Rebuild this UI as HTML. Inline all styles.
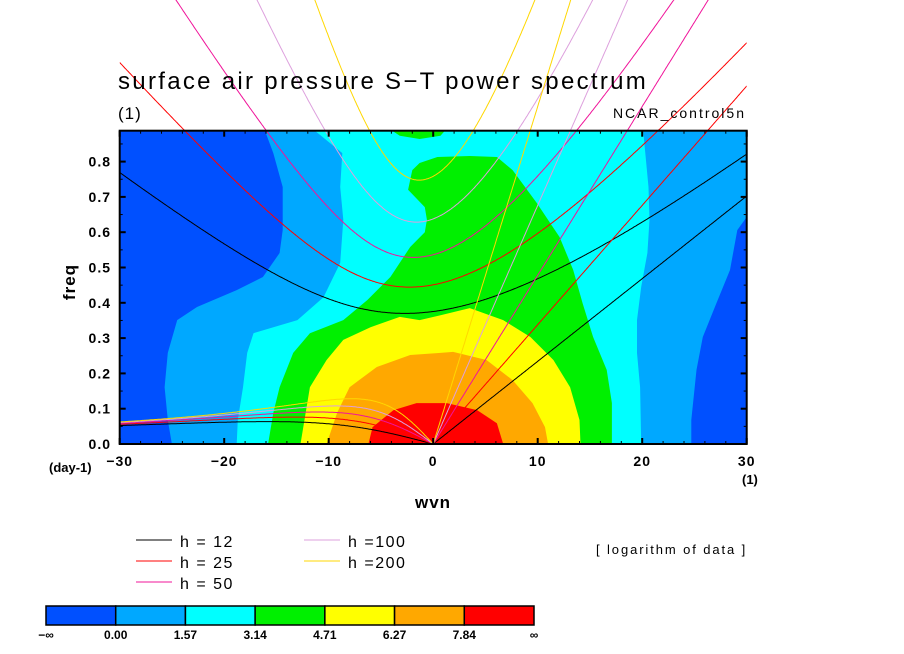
<!DOCTYPE html>
<html><head><meta charset="utf-8"><style>
body{margin:0;background:#fff;}
svg{display:block;font-family:"Liberation Sans",sans-serif;}
</style></head><body>
<svg id="chart" width="904" height="654" viewBox="0 0 904 654">
<defs>
<clipPath id="plotClip"><rect x="119.7" y="130.7" width="627" height="313.3"/></clipPath>
<clipPath id="curveClip"><rect x="119.7" y="0" width="627" height="654"/></clipPath>
</defs>
<g id="fills" clip-path="url(#plotClip)"></g>
<g id="curves" clip-path="url(#curveClip)"></g>
<g id="axes"></g>
<text x="118" y="89" font-size="24" letter-spacing="2.3">surface air pressure S−T power spectrum</text>
<text x="118" y="119" font-size="17" letter-spacing="1">(1)</text>
<text x="746" y="118" font-size="14" letter-spacing="2" text-anchor="end">NCAR_control5n</text>
<text x="75" y="282" font-size="17" font-weight="bold" letter-spacing="1" text-anchor="middle" transform="rotate(-90 75 282)">freq</text>
<text x="433" y="508" font-size="17" font-weight="bold" letter-spacing="1" text-anchor="middle">wvn</text>
<text x="49" y="472" font-size="13" font-weight="bold">(day-1)</text>
<text x="742" y="484" font-size="13" font-weight="bold">(1)</text>
<text x="596" y="554" font-size="13" letter-spacing="1.9">[ logarithm of data ]</text>
<g id="legend"></g>
<g id="colorbar"></g>
</svg>
<script>
const NS="http://www.w3.org/2000/svg";
const depths=[12,25,50,100,200];
const depthColors=["#000000","#ff0000","#f0149a","#dda0dd","#ffd700"];
const legendLabels=["h = 12","h = 25","h = 50","h =100","h =200"];
const xTicks=[-30,-20,-10,0,10,20,30];
const yTicks=[0,0.1,0.2,0.3,0.4,0.5,0.6,0.7,0.8];
const levelLabels=["−∞","0.00","1.57","3.14","4.71","6.27","7.84","∞"];
const levelColors=["#0050ff","#00a8ff","#00ffff","#00f000","#ffff00","#ffa800","#ff0000"];
const bgLevel=1;
const regionLevels=[0,0,2,3,3,4,5,6];
const regionDarkLeft=[[-30,0.887],[-16.1,0.887],[-15.3,0.824],[-14.4,0.728],[-14.4,0.606],[-14.7,0.541],[-16.3,0.473],[-18.8,0.436],[-22.6,0.388],[-24.5,0.351],[-25.4,0.258],[-25.7,0.161],[-25.4,0.068],[-25.0,0],[-30,0]];
const regionDarkRight=[[30,0.643],[29.1,0.606],[28.4,0.493],[27.1,0.399],[25.8,0.303],[25.2,0.210],[24.7,0.068],[24.7,0],[30,0]];
const regionCyan=[[-11.3,0.887],[-8.7,0.824],[-8.9,0.728],[-8.6,0.635],[-8.9,0.513],[-10.5,0.416],[-13.0,0.351],[-17.2,0.314],[-17.8,0.258],[-18.2,0.161],[-18.7,0.068],[-18.8,0],[19.9,0],[19.8,0.161],[19.5,0.258],[19.5,0.351],[19.9,0.445],[20.5,0.541],[20.7,0.635],[20.6,0.728],[20.1,0.887]];
const regionGreenTop=[[-3.9,0.887],[1.1,0.887],[0.7,0.873],[-1.3,0.864],[-3.2,0.873]];
const regionGreen=[[-15.8,0],[-15.3,0.088],[-14.7,0.161],[-13.4,0.258],[-11.8,0.314],[-8.6,0.351],[-6.3,0.408],[-4.1,0.473],[-2.2,0.558],[-0.8,0.600],[-0.6,0.635],[-0.8,0.671],[-2.4,0.720],[-2.0,0.776],[-1.3,0.796],[0.4,0.813],[3.5,0.816],[6.1,0.813],[7.6,0.776],[9.9,0.683],[12.1,0.586],[13.4,0.493],[14.3,0.399],[15.3,0.303],[16.6,0.210],[17.1,0.116],[17.1,0]];
const regionYellow=[[-12.7,0],[-11.8,0.161],[-10.2,0.238],[-8.6,0.295],[-6.0,0.331],[-3.2,0.360],[-1.3,0.351],[0.7,0.365],[3.5,0.385],[6.7,0.351],[9.3,0.303],[11.5,0.238],[13.1,0.161],[14.0,0.068],[14.1,0]];
const regionOrange=[[-10.2,0],[-9.2,0.088],[-8.0,0.161],[-5.4,0.218],[-2.2,0.252],[0.7,0.258],[1.9,0.261],[5.1,0.238],[7.6,0.181],[9.5,0.116],[10.7,0.048],[11.0,0]];
const regionRed=[[-6.2,0],[-5.8,0.048],[-3.8,0.096],[-1.6,0.116],[1.3,0.116],[4.2,0.096],[6.1,0.059],[6.7,0]];
const regions=[regionDarkLeft,regionDarkRight,regionCyan,regionGreenTop,regionGreen,regionYellow,regionOrange,regionRed];
const regionNames=["contour-below-0-left","contour-below-0-right","contour-1-57","contour-3-14-top","contour-3-14","contour-4-71","contour-6-27","contour-7-84"];

const X0=119.7,X1=746.7,Y0=444,YPER=353;
const xs=v=>X0+(v+30)/60*(X1-X0);
const ys=v=>Y0-v*YPER;
function mk(tag,attrs,parent){const e=document.createElementNS(NS,tag);for(const k in attrs)e.setAttribute(k,attrs[k]);parent.appendChild(e);return e;}

const fills=document.getElementById('fills');
const bg=mk('rect',{x:X0,y:130.7,width:X1-X0,height:313.3,fill:levelColors[bgLevel]},fills);


regions.forEach((r,i)=>{
  const p=mk('polygon',{points:r.map(q=>xs(q[0]).toFixed(1)+','+ys(q[1]).toFixed(1)).join(' '),fill:levelColors[regionLevels[i]]},fills);
  
  
});

const g=9.81,a=6.371e6,beta=2*7.292e-5/a,toCpd=86400/(2*Math.PI);
function roots(s,c){
  const k=s/a;const p=-c*c*(k*k+3*beta/c);const q=-beta*k*c*c;
  const m=2*Math.sqrt(-p/3);let arg=(3*q/(2*p))*Math.sqrt(-3/p);arg=Math.max(-1,Math.min(1,arg));
  const th=Math.acos(arg)/3;return [0,1,2].map(j=>m*Math.cos(th-2*Math.PI*j/3));
}
const curves=document.getElementById('curves');
depths.forEach((h,i)=>{
  const c=Math.sqrt(g*h);
  let ig=[],ro=[],kv=[];
  for(let s=-30;s<=30.001;s+=0.1){
    const r=roots(s,c);
    ig.push([s,Math.max(...r)*toCpd]);
    if(s<-0.05){const pos=r.filter(v=>v>0);ro.push([s,Math.min(...pos)*toCpd]);}
    if(s>=-0.001){kv.push([s,c*(s/a)*toCpd]);}
  }
  ro.push([0,0]);
  [[ig,'ig-n1-curve'],[ro,'rossby-n1-curve'],[kv,'kelvin-curve']].forEach(([pts,nm])=>{
    const pl=mk('polyline',{points:pts.map(q=>xs(q[0]).toFixed(1)+','+ys(q[1]).toFixed(1)).join(' '),fill:'none',stroke:depthColors[i],'stroke-width':1},curves);
    
    
  });
});

const axes=document.getElementById('axes');
mk('rect',{x:X0,y:130.7,width:X1-X0,height:313.3,fill:'none',stroke:'#000','stroke-width':2},axes);
for(let v=-30;v<=30;v+=2){
  const major=v%10===0,L=major?6:3,x=xs(v);
  mk('line',{x1:x,y1:Y0,x2:x,y2:Y0-L,stroke:'#000','stroke-width':major?2:1},axes);
  mk('line',{x1:x,y1:130.7,x2:x,y2:130.7+L,stroke:'#000','stroke-width':major?2:1},axes);
}
for(let i=0;i<=17;i++){
  const v=i*0.05,major=i%2===0,L=major?6:3,y=ys(v);
  mk('line',{x1:X0,y1:y,x2:X0+L,y2:y,stroke:'#000','stroke-width':major?2:1},axes);
  mk('line',{x1:X1,y1:y,x2:X1-L,y2:y,stroke:'#000','stroke-width':major?2:1},axes);
}
xTicks.forEach(v=>{
  const t=mk('text',{x:xs(v),y:466,'font-size':14,'font-weight':'bold','text-anchor':'middle','letter-spacing':1},axes);
  t.textContent=(v<0?'−':'')+Math.abs(v);
  
  
});
yTicks.forEach(v=>{
  const t=mk('text',{x:111,y:ys(v)+5,'font-size':14,'font-weight':'bold','text-anchor':'end','letter-spacing':1},axes);
  t.textContent=v.toFixed(1);
  
  
});

const lg=document.getElementById('legend');
depths.forEach((h,i)=>{
  const col=i<3?0:1,row=i<3?i:i-3;
  const x=136+col*168,y=540+row*21;
  const e=mk('g',{},lg);
  
  
  mk('line',{x1:x,y1:y,x2:x+36,y2:y,stroke:depthColors[i],'stroke-width':1},e);
  const t=mk('text',{x:x+44,y:y+7,'font-size':16,'letter-spacing':1.5},e);
  t.textContent=legendLabels[i];
});

const cb=document.getElementById('colorbar');
const CB0=46,CB1=534,CBW=(CB1-CB0)/levelColors.length;
levelColors.forEach((c,i)=>{
  const r=mk('rect',{x:CB0+i*CBW,y:606,width:CBW,height:19,fill:c,stroke:'#000','stroke-width':1.5},cb);
  
  
});
levelLabels.forEach((l,i)=>{
  const t=mk('text',{x:CB0+i*CBW,y:639,'font-size':12,'font-weight':'bold','text-anchor':'middle'},cb);
  t.textContent=l;
  
  
});
</script>
</body></html>
